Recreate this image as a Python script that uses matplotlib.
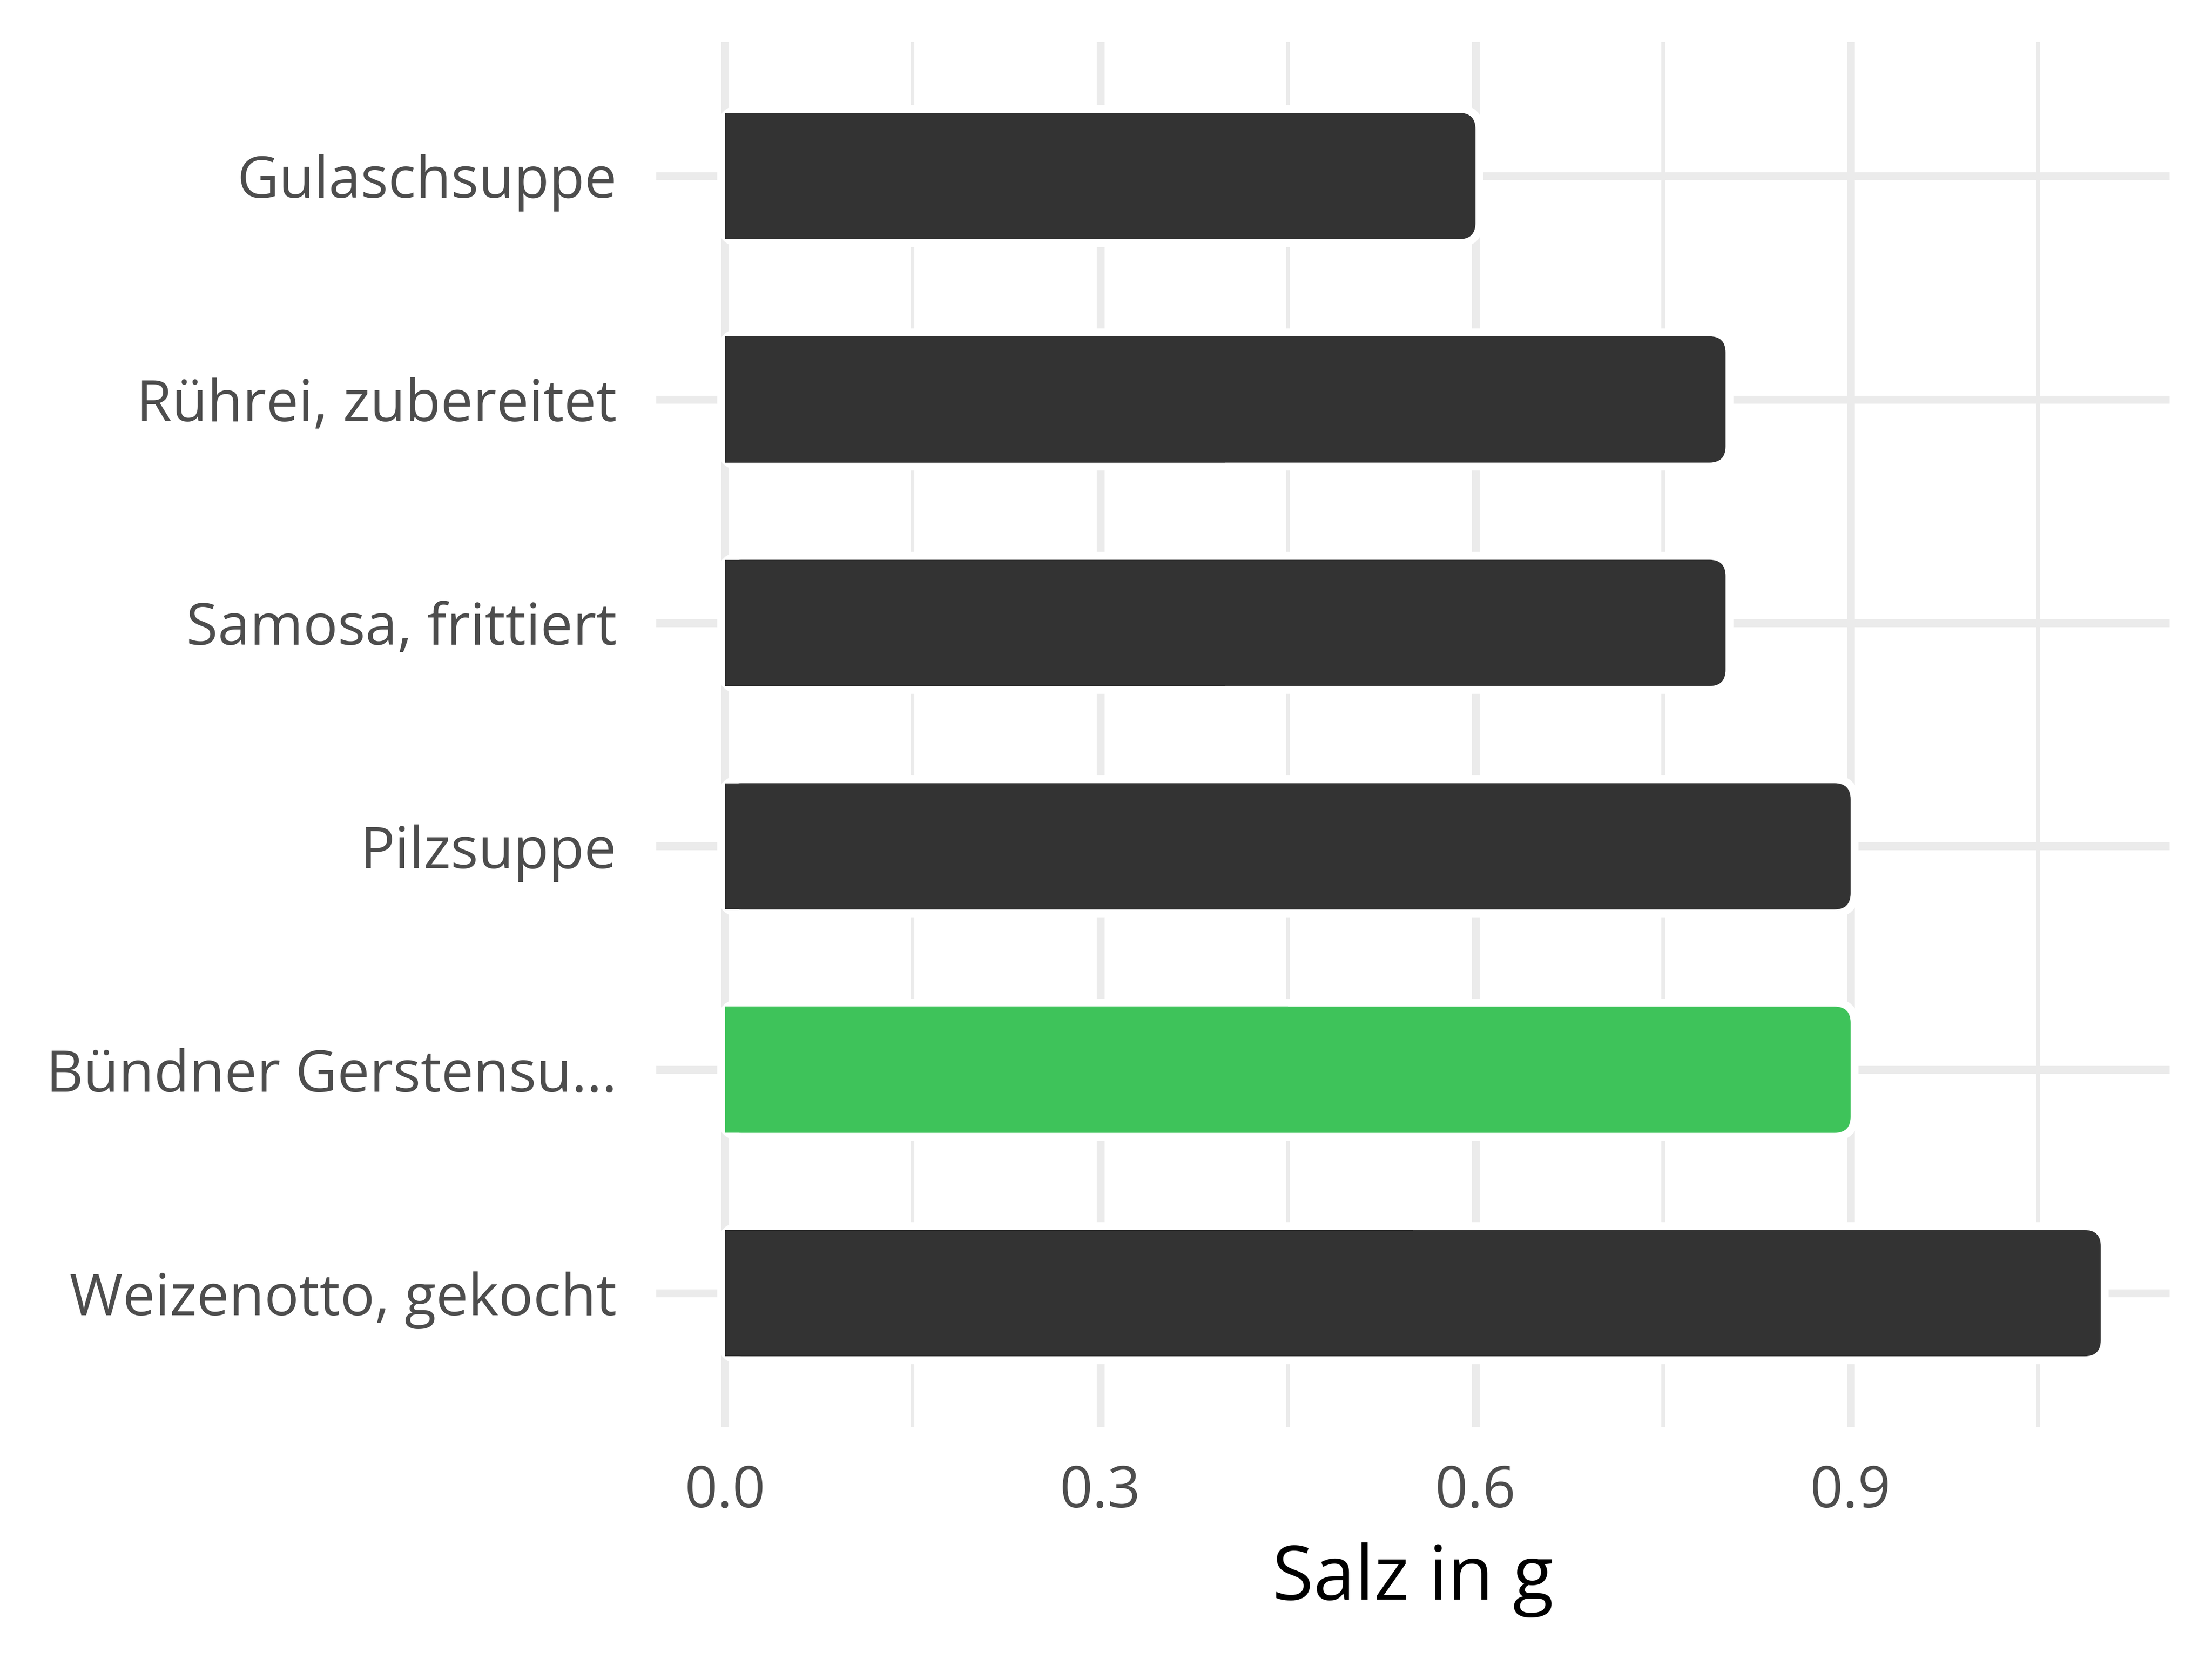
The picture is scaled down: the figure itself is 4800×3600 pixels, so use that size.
import matplotlib
matplotlib.use("Agg")
import matplotlib.pyplot as plt
import matplotlib.patheffects as pe
from matplotlib.patches import FancyBboxPatch, Rectangle
import numpy as np

foods = ["Gulaschsuppe", "Rührei, zubereitet", "Samosa, frittiert", "Pilzsuppe",
         "Bündner Gerstensu...", "Weizenotto, gekocht"]
salt = [0.6, 0.8, 0.8, 0.9, 0.9, 1.1]
highlight = [False, False, False, False, True, False]
x_major = [0.0, 0.3, 0.6, 0.9]
x_minor = [0.15, 0.45, 0.75, 1.05]

plt.rcParams["font.family"] = ["Open Sans", "DejaVu Sans"]

dark = "#333333"
green = "#3EC35A"
grid = "#EBEBEB"
txt = "#4D4D4D"

fig = plt.figure(figsize=(16, 12), dpi=300)
ax = fig.add_axes([0.2967, 0.1397, 0.6841, 0.8350])

xlim = (-0.055, 1.155)
ylim = (len(foods) - 0.4, -0.6)
ax.set_xlim(xlim)
ax.set_ylim(ylim)

for s in ax.spines.values():
    s.set_visible(False)

ax.set_xticks(x_major)
ax.set_xticklabels(["%.1f" % v for v in x_major])
ax.set_xticks(x_minor, minor=True)
ax.set_yticks(np.arange(len(foods)))
ax.set_yticklabels(foods)
ax.tick_params(axis="both", which="both", length=0)
ax.tick_params(axis="y", pad=20.5, labelsize=30, labelcolor=txt)
ax.tick_params(axis="x", pad=19, labelsize=30, labelcolor=txt)
ax.grid(True, which="major", color=grid, linewidth=4.1)
ax.grid(True, which="minor", axis="x", color=grid, linewidth=1.9)
ax.set_axisbelow(True)

ax.set_xlabel("Salz in g", fontsize=39, color="black", labelpad=11)

# rounding in pixels -> data units
fig_w, fig_h = fig.get_size_inches() * fig.dpi
bb = ax.get_position()
px_x = bb.width * fig_w / (xlim[1] - xlim[0])
px_y = bb.height * fig_h / abs(ylim[1] - ylim[0])
radius_px = 35
rx = radius_px / px_x
aspect = px_x / px_y

h = 0.565
for i, (v, hl) in enumerate(zip(salt, highlight)):
    col = green if hl else dark
    box = FancyBboxPatch((0, i - h / 2), v, h,
                         boxstyle="round,pad=0,rounding_size=%f" % rx,
                         mutation_aspect=aspect, facecolor=col,
                         linewidth=0, zorder=3)
    box.set_path_effects([pe.Stroke(linewidth=8.2, foreground="white"), pe.Normal()])
    ax.add_patch(box)
    ax.add_patch(Rectangle((0, i - h / 2), v / 2, h, facecolor=col,
                           linewidth=0, zorder=4))

fig.savefig("out.png", dpi=300)
